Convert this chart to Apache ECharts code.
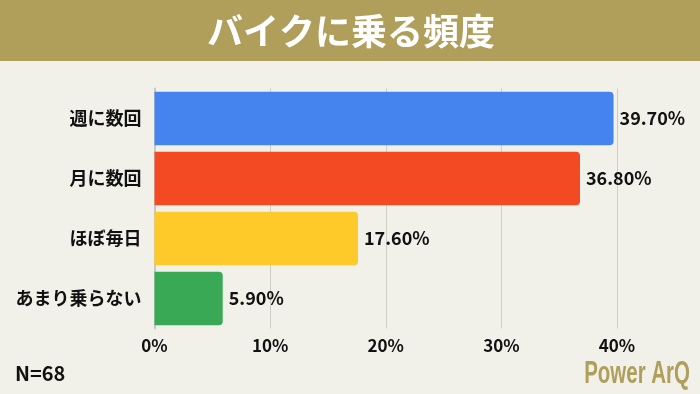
<!DOCTYPE html>
<html><head><meta charset="utf-8">
<script src="https://cdn.jsdelivr.net/npm/echarts@6/dist/echarts.min.js"></script>
<style>html,body{margin:0;padding:0;background:#f1f1e9}#c{width:700px;height:394px}</style>
</head><body><div id="c"></div>
<script>
const categories = ['週に数回', '月に数回', 'ほぼ毎日', 'あまり乗らない'];
const values = [39.7, 36.8, 17.6, 5.9];
const colors = ['#4583ee', '#f44a24', '#fdca2a', '#3aa956'];
const xTicks = [0, 10, 20, 30, 40];
const title = 'バイクに乗る頻度';
const sampleNote = 'N=68';
const brand = 'Power ArQ';

const font = '"Noto Sans CJK JP", "Noto Sans", sans-serif';
const chart = echarts.init(document.getElementById('c'), null, {renderer: 'canvas'});
chart.setOption({
  backgroundColor: '#f1f1e9',
  animation: false,
  graphic: [
    {type: 'rect', x: 0, y: 0, shape: {width: 700, height: 61}, style: {fill: '#b09f5b'}},
    {type: 'text', x: 351, y: 31, style: {text: title, fill: '#fff', font: 'bold 36px ' + font,
      align: 'center', verticalAlign: 'middle',
      shadowColor: 'rgba(0,0,0,0.35)', shadowBlur: 4, shadowOffsetX: 1, shadowOffsetY: 2}},
    {type: 'text', x: 15, y: 373, style: {text: sampleNote, fill: '#111', font: 'bold 20px ' + font, verticalAlign: 'middle'}},
    {type: 'text', x: 690, y: 374, scaleX: 0.64, style: {text: brand, fill: '#b09f5b', font: 'bold 32px "Liberation Sans", Arial, sans-serif', align: 'right', verticalAlign: 'middle'}}
  ],
  grid: {left: 154.5, right: 83, top: 88.5, bottom: 65.5, containLabel: false},
  xAxis: {
    type: 'value', min: 0, max: 40, interval: 10,
    axisLabel: {formatter: v => xTicks.includes(v) ? v + '%' : '', color: '#111', fontFamily: font, fontWeight: 'bold', fontSize: 17, margin: 9},
    splitLine: {show: true, lineStyle: {color: '#cfcfc8', width: 1}},
    axisLine: {show: false}, axisTick: {show: false}
  },
  yAxis: {
    type: 'category', data: categories, inverse: true,
    axisLabel: {color: '#111', fontFamily: font, fontWeight: 'bold', fontSize: 18, margin: 13},
    axisLine: {show: true, lineStyle: {color: '#c8c8c2', width: 2}},
    axisTick: {show: false}
  },
  series: [{
    type: 'bar',
    data: values.map((v, i) => ({value: v, itemStyle: {color: colors[i]}})),
    barCategoryGap: '11%',
    itemStyle: {borderRadius: [0, 4, 4, 0]},
    label: {show: true, position: 'right', distance: 6, formatter: p => p.value.toFixed(2) + '%',
      color: '#111', fontFamily: font, fontWeight: 'bold', fontSize: 18}
  }]
});
</script></body></html>
